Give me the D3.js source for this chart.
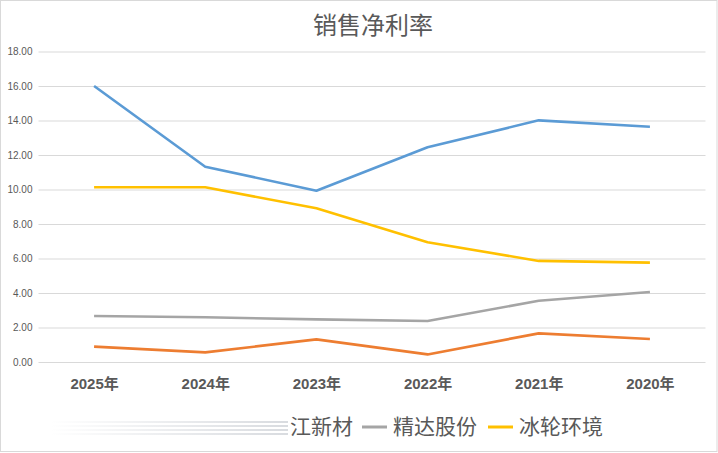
<!DOCTYPE html>
<html>
<head>
<meta charset="utf-8">
<script src="https://cdn.jsdelivr.net/npm/d3@7"></script>
<style>
  html, body { margin: 0; padding: 0; background: #fff; }
  svg { display: block; }
</style>
</head>
<body>
<div id="chart"></div>
<script>
var categories = ["2025年", "2024年", "2023年", "2022年", "2021年", "2020年"];
var yTicks = [0, 2, 4, 6, 8, 10, 12, 14, 16, 18];

var blueValues   = [16.00, 11.32, 9.93, 12.45, 14.01, 13.64];
var orangeValues = [0.89, 0.56, 1.31, 0.44, 1.66, 1.33];
var grayValues   = [2.67, 2.59, 2.47, 2.38, 3.55, 4.06];
var yellowValues = [10.13, 10.13, 8.91, 6.94, 5.86, 5.76];

var series = [
    { name: "", values: blueValues, color: "#5b9bd5" },
    { name: "江新材", values: orangeValues, color: "#ed7d31" },
    { name: "精达股份", values: grayValues, color: "#a5a5a5" },
    { name: "冰轮环境", values: yellowValues, color: "#ffc000" }
];

var width = 718, height = 453;
var plot = { left: 38.5, right: 705.5, top: 51.5, bottom: 362 };

var svg = d3.select("#chart").append("svg")
    .attr("width", width)
    .attr("height", height);

svg.append("rect")
    .attr("x", 0.5).attr("y", 0.5)
    .attr("width", width - 1.5).attr("height", height - 2)
    .attr("fill", "#fff")
    .attr("stroke", "#d9d9d9");

var x = d3.scalePoint()
    .domain(categories)
    .range([plot.left, plot.right])
    .padding(0.5);

var y = d3.scaleLinear()
    .domain([0, 18])
    .range([plot.bottom, plot.top]);

// title
svg.append("text")
    .attr("x", 373).attr("y", 34)
    .attr("text-anchor", "middle")
    .attr("font-family", "'Noto Sans CJK SC', sans-serif")
    .attr("font-size", "24px")
    .attr("fill", "#595959")
    .text("销售净利率");

// y grid + labels
var yAxis = d3.axisLeft(y)
    .tickValues(yTicks)
    .tickSize(-(plot.right - plot.left))
    .tickPadding(6)
    .tickFormat(d3.format(".2f"));

var gy = svg.append("g")
    .attr("transform", "translate(" + plot.left + ",0)")
    .call(yAxis);
gy.select(".domain").remove();
gy.selectAll(".tick line")
    .attr("stroke", "#d9d9d9")
    .attr("stroke-width", 1);
gy.selectAll(".tick text")
    .attr("font-family", "'Liberation Sans', sans-serif")
    .attr("font-size", "10px")
    .attr("fill", "#595959");

// x labels
var xAxis = d3.axisBottom(x).tickSize(0).tickPadding(16);
var gx = svg.append("g")
    .attr("transform", "translate(0," + plot.bottom + ")")
    .call(xAxis);
gx.select(".domain").remove();
gx.selectAll(".tick text")
    .attr("font-family", "'Liberation Sans', 'Noto Sans CJK SC', sans-serif")
    .attr("font-size", "15px")
    .attr("font-weight", "bold")
    .attr("fill", "#595959");

// lines
var line = d3.line()
    .x(function (d, i) { return x(categories[i]); })
    .y(function (d) { return y(d); });

svg.selectAll(".series")
    .data(series)
    .enter().append("path")
    .attr("class", "series")
    .attr("fill", "none")
    .attr("stroke", function (d) { return d.color; })
    .attr("stroke-width", 2.6)
    .attr("stroke-linejoin", "round")
    .attr("d", function (d) { return line(d.values); });

// legend (first part of it is faded out in the picture)
var defs = svg.append("defs");
var grad = defs.append("linearGradient").attr("id", "fade");
grad.append("stop").attr("offset", "0%").attr("stop-color", "#c8ccd2").attr("stop-opacity", 0);
grad.append("stop").attr("offset", "100%").attr("stop-color", "#c8ccd2").attr("stop-opacity", 0.7);

var legendY = 427;
var fade = svg.append("g");
[-5, -1, 3, 7].forEach(function (dy) {
    fade.append("rect")
        .attr("x", 50).attr("y", legendY + dy - 1)
        .attr("width", 238).attr("height", 2)
        .attr("fill", "url(#fade)");
});

var legendItems = [
    { name: "江新材", color: null, x: 290 },
    { name: "精达股份", color: "#a5a5a5", x: 362 },
    { name: "冰轮环境", color: "#ffc000", x: 488 }
];
var lg = svg.append("g");
legendItems.forEach(function (it) {
    var tx = it.x;
    if (it.color) {
        lg.append("line")
            .attr("x1", it.x).attr("x2", it.x + 25)
            .attr("y1", legendY).attr("y2", legendY)
            .attr("stroke", it.color)
            .attr("stroke-width", 3);
        tx = it.x + 31;
    }
    lg.append("text")
        .attr("x", tx).attr("y", legendY + 7)
        .attr("font-family", "'Noto Sans CJK SC', sans-serif")
        .attr("font-size", "21px")
        .attr("fill", "#595959")
        .text(it.name);
});
</script>
</body>
</html>
